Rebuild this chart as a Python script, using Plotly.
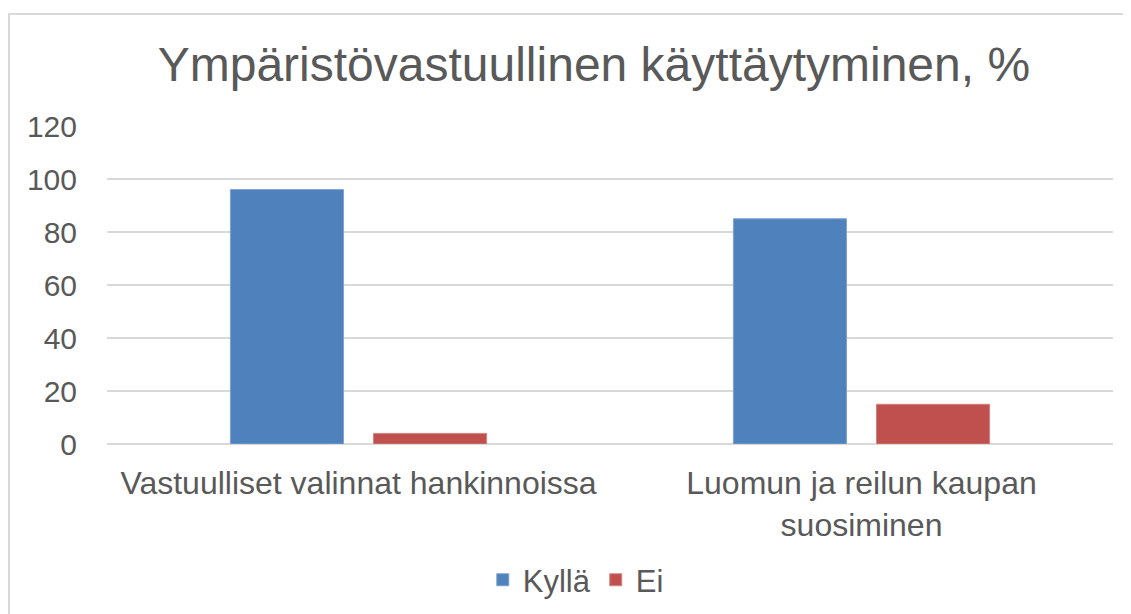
import plotly.graph_objects as go

categories = ["Vastuulliset valinnat hankinnoissa", "Luomun ja reilun kaupan<br>suosiminen"]
kylla = [96, 85]
ei = [4, 15]
series_names = ["Kyllä", "Ei"]
y_ticks = [0, 20, 40, 60, 80, 100, 120]

TXT = "#595959"
FONT = "Liberation Sans, Arial, sans-serif"

fig = go.Figure()
fig.add_trace(go.Bar(x=categories, y=kylla, name=series_names[0],
                     marker=dict(color="#4F81BD", line=dict(color="#7FA2D0", width=1))))
fig.add_trace(go.Bar(x=categories, y=ei, name=series_names[1],
                     marker=dict(color="#C0504D", line=dict(color="#D08482", width=1))))

fig.update_layout(
    width=1131, height=614,
    margin=dict(l=99, r=26, t=118, b=178),
    paper_bgcolor="white", plot_bgcolor="white",
    font=dict(family=FONT, color=TXT),
    barmode="group", bargap=0.431, bargroupgap=0.21,
    title=dict(text="Ympäristövastuullinen käyttäytyminen, %", x=0.484, xref="paper",
               xanchor="center", y=1 - 56 / 614, yanchor="middle", yref="container",
               font=dict(size=48, color=TXT, family=FONT)),
    showlegend=True,
    legend=dict(orientation="h", x=0.466, xanchor="center", y=-0.428, yanchor="middle",
                font=dict(size=31, color=TXT), itemwidth=30, traceorder="normal"),
    xaxis=dict(showgrid=False, showline=False, zeroline=False, ticks="outside", ticklen=11,
               tickcolor="rgba(0,0,0,0)", tickfont=dict(size=32, color=TXT)),
    yaxis=dict(range=[0, 120], tickvals=y_ticks, showgrid=True, gridcolor="#D9D9D9", gridwidth=1.5,
               zeroline=True, zerolinecolor="#D9D9D9", zerolinewidth=1.5, showline=False,
               ticks="outside", ticklen=23, tickcolor="rgba(0,0,0,0)",
               tickfont=dict(size=30, color=TXT)),
    shapes=[dict(type="rect", xref="paper", yref="paper",
                 x0=(9 - 107) / 1006, x1=1.2, y0=-1.0, y1=(444 - 14) / 318,
                 line=dict(color="#D9D9D9", width=2), fillcolor="rgba(0,0,0,0)", layer="below")],
)

fig.write_html("out.html")
